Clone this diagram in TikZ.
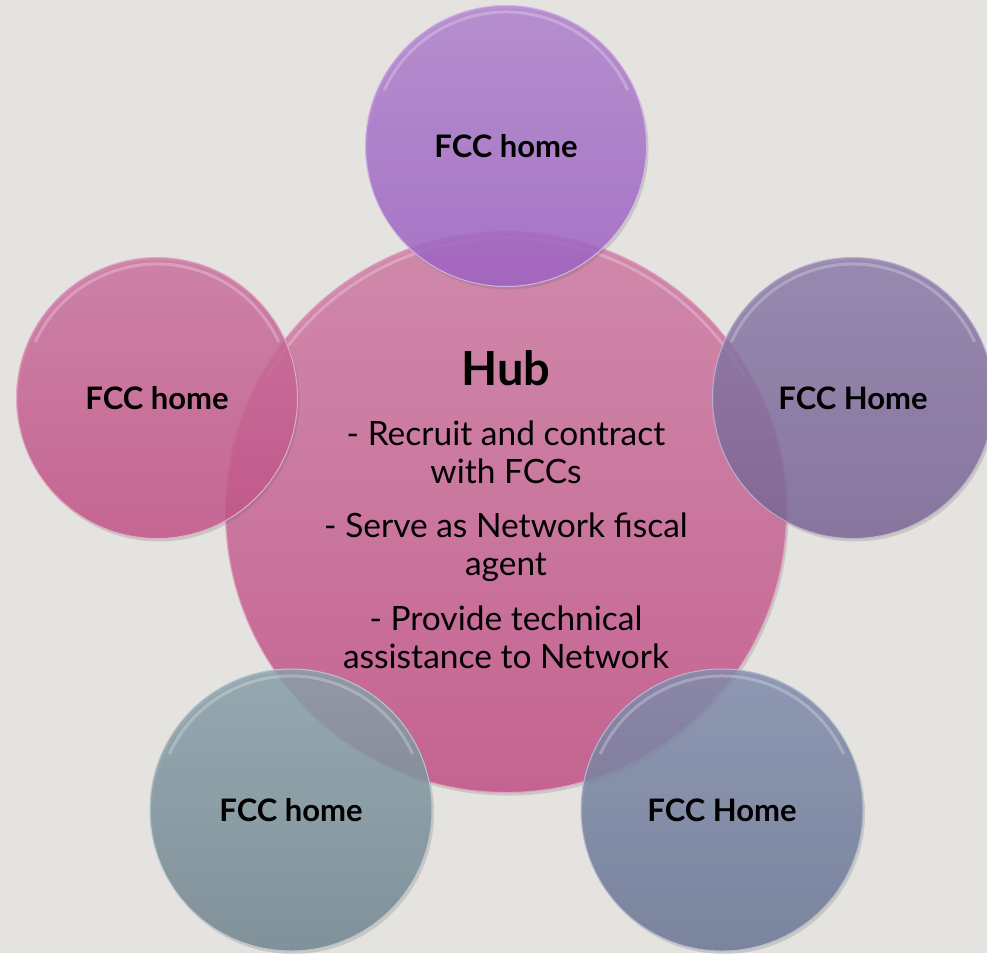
\documentclass[tikz,border=0pt]{standalone}
\usepackage{fontspec}
\setmainfont{Lato}
\usetikzlibrary{shadows}
\definecolor{bgc}{HTML}{E5E3DF}
\definecolor{hubT}{HTML}{D27CA6}
\definecolor{hubB}{HTML}{C44E86}
\definecolor{topT}{HTML}{B282D0}
\definecolor{topB}{HTML}{9E62C6}
\definecolor{leftT}{HTML}{CE72A0}
\definecolor{leftB}{HTML}{C45288}
\definecolor{rightT}{HTML}{8C7CAC}
\definecolor{rightB}{HTML}{7A6496}
\definecolor{blT}{HTML}{8AA2AC}
\definecolor{blB}{HTML}{728692}
\definecolor{brT}{HTML}{828EAE}
\definecolor{brB}{HTML}{6A7696}
\tikzset{
  disc/.style={circle, inner sep=0pt, minimum size=#1, fill opacity=0.82, text opacity=1,
    drop shadow={shadow xshift=2pt, shadow yshift=-3pt, opacity=0.22, fill=black!60}},
  rim/.style={white, line width=3pt, opacity=0.25, line cap=round},
  homelabel/.style={font=\bfseries\fontsize{31}{34}\selectfont, text=black},
  hubline/.style={font=\fontsize{33.5}{38}\selectfont, text=black, align=center},
}
\begin{document}
\begin{tikzpicture}[x=1pt,y=-1pt]
\fill[bgc] (0,0) rectangle (987,953);
\useasboundingbox (0,0) rectangle (987,953);
% hub
\node[disc=561pt, top color=hubT, bottom color=hubB, draw=hubT!70!white, line width=1pt] (hub) at (506,512) {};
\draw[rim] (hub.center) ++(210:274) arc[start angle=210, end angle=330, radius=274];
% satellites
\node[disc=281pt, top color=topT, bottom color=topB, draw=topT!60!white, line width=1pt] (top) at (506,146) {};
\node[disc=281pt, top color=leftT, bottom color=leftB, draw=leftT!60!white, line width=1pt] (left) at (157,398) {};
\node[disc=281pt, top color=rightT, bottom color=rightB, draw=rightT!60!white, line width=1pt] (right) at (853,398) {};
\node[disc=282pt, top color=blT, bottom color=blB, draw=blT!60!white, line width=1pt] (bl) at (291,810) {};
\node[disc=282pt, top color=brT, bottom color=brB, draw=brT!60!white, line width=1pt] (br) at (722,810) {};
\foreach \c in {top,left,right,bl,br}{
  \draw[rim] (\c.center) ++(205:134) arc[start angle=205, end angle=335, radius=134];
}
% labels
\node[homelabel] (ttop) at (top.center) {FCC home};
\node[homelabel] (tleft) at (left.center) {FCC home};
\node[homelabel] (tright) at (right.center) {FCC Home};
\node[homelabel] (tbl) at (bl.center) {FCC home};
\node[homelabel] (tbr) at (br.center) {FCC Home};
\node[font=\bfseries\fontsize{47}{50}\selectfont, anchor=base] (hubt) at (506,385) {Hub};
\node[hubline, anchor=base] (l1) at (506,483) {- Recruit and contract\\with FCCs};
\node[hubline, anchor=base] (l2) at (506,575) {- Serve as Network fiscal\\agent};
\node[hubline, anchor=base] (l3) at (506,668) {- Provide technical\\assistance to Network};
\end{tikzpicture}
\end{document}
